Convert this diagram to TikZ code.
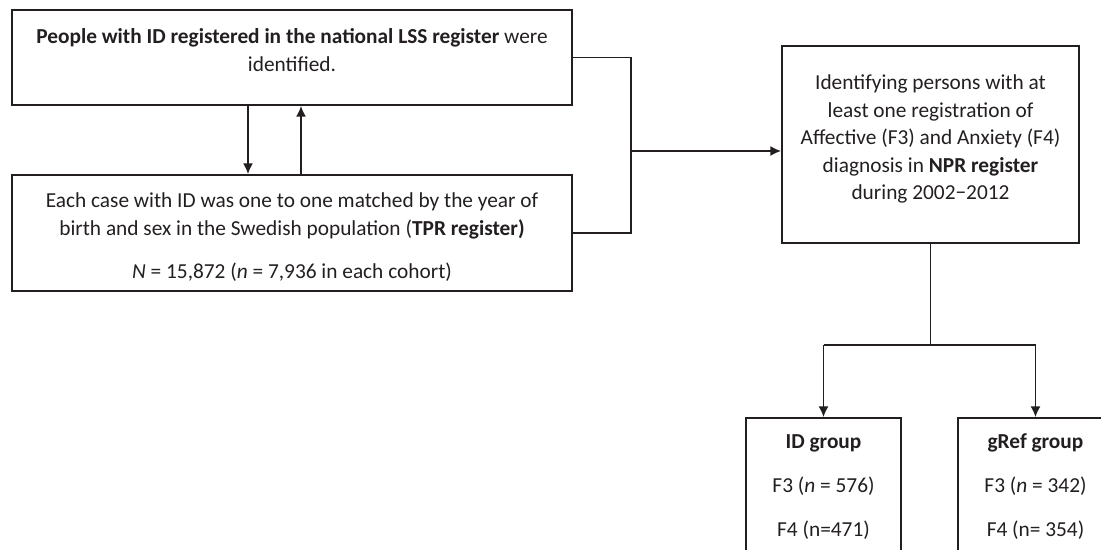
\documentclass[tikz,border=0pt]{standalone}
\usepackage{fontspec}
\setmainfont{Carlito}
\usepackage{tikz}
\usetikzlibrary{arrows.meta}

\definecolor{ink}{RGB}{35,31,32}

\begin{document}
\begin{tikzpicture}[x=0.75pt, y=-0.75pt,
	box/.style={draw=ink, line width=1.4pt, inner sep=0pt},
	txt/.style={text=ink, align=center, font=\fontsize{16pt}{21pt}\selectfont},
	link/.style={draw=ink, line width=0.8pt},
	arr/.style={draw=ink, line width=1.3pt, arrows={-Latex[length=8pt, width=7.5pt]}}]

	\useasboundingbox (0,0) rectangle (1101,550);

	% boxes
	\node [box, minimum width=420pt, minimum height=71.25pt] (lss) at (292,57.5) {};
	\node [box, minimum width=420pt, minimum height=87pt] (tpr) at (292,233) {};
	\node [box, minimum width=222.75pt, minimum height=147.75pt] (npr) at (930.5,144.5) {};
	\node [box, minimum width=116.25pt, minimum height=106.5pt] (idg) at (823.5,489) {};
	\node [box, minimum width=116.25pt, minimum height=106.5pt] (gref) at (1035.5,489) {};

	% texts
	\node [txt] (lsstext) at (292,50) {\textbf{People with ID registered in the national LSS register} were\\identified.};
	\node [txt] (tprtext) at (292,237.5) {Each case with ID was one to one matched by the year of\\birth and sex in the Swedish population (\textbf{TPR register)}\\[11.25pt]\textit{N} = 15,872 (\textit{n} = 7,936 in each cohort)};
	\node [txt, font=\fontsize{16pt}{20.6pt}\selectfont] (nprtext) at (930.5,139) {Identifying persons with at\\least one registration of\\Affective (F3) and Anxiety (F4)\\diagnosis in \textbf{NPR register}\\during 2002−2012};
	\node [txt] (idgtext) at (823.5,487) {\textbf{ID group}\\[12pt]F3 (\textit{n} = 576)\\[12pt]F4 (n=471)};
	\node [txt] (greftext) at (1035.5,487) {\textbf{gRef group}\\[12pt]F3 (\textit{n} = 342)\\[12pt]F4 (n= 354)};

	% connectors
	\draw [arr] ([xshift=-33pt]lss.south) -- ([xshift=-33pt]tpr.north);
	\draw [arr] ([xshift=6.75pt]tpr.north) -- ([xshift=6.75pt]lss.south);

	\coordinate (join) at (631,151);
	\draw [link] (lss.east) -| (join) |- (tpr.east);
	\draw [arr] (join) -- (join -| npr.west);

	\coordinate (split) at (930.5,345);
	\draw [link] (npr.south) -- (split);
	\draw [link] (split -| idg.north) -- (split -| gref.north);
	\draw [arr] (split -| idg.north) -- (idg.north);
	\draw [arr] (split -| gref.north) -- (gref.north);

\end{tikzpicture}
\end{document}
